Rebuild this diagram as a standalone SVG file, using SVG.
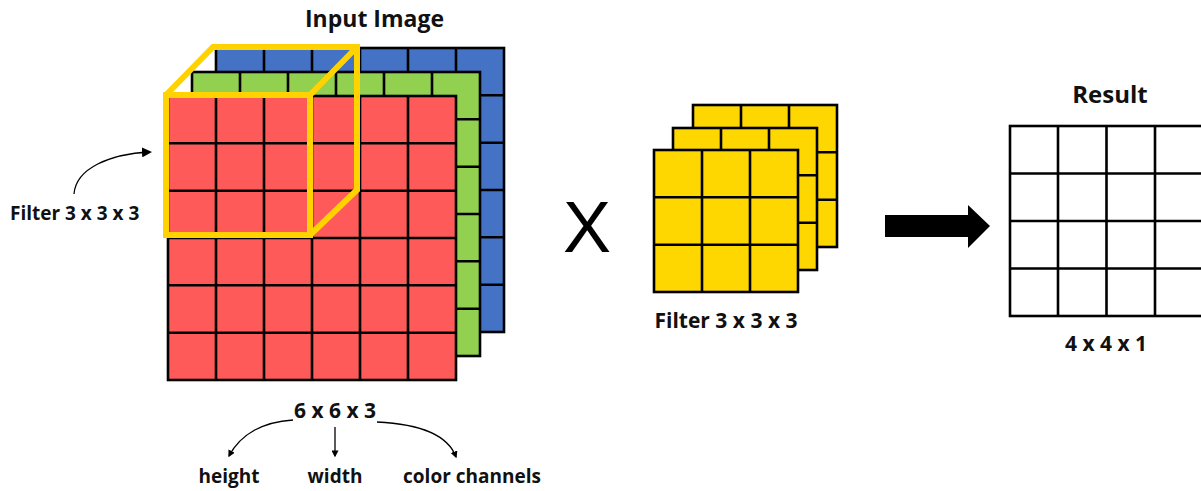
<svg xmlns="http://www.w3.org/2000/svg" width="1201" height="491" viewBox="0 0 1201 491">
<style>
.g{stroke:#000;stroke-width:2.6;}
.t{font-family:"Open Sans","Noto Sans",sans-serif;font-weight:700;fill:#111;}
.c{fill:none;stroke:#000;stroke-width:1.3;}
</style>
<defs>
<marker id="ah" viewBox="0 0 10 10" refX="8" refY="5" markerWidth="7" markerHeight="7" orient="auto" markerUnits="userSpaceOnUse">
<path d="M0,0 L10,5 L0,10 z" fill="#000"/>
</marker>
<marker id="ah2" viewBox="0 0 10 10" refX="8" refY="5" markerWidth="10" markerHeight="10" orient="auto" markerUnits="userSpaceOnUse">
<path d="M0,0 L10,5 L0,10 z" fill="#000"/>
</marker>
</defs>
<rect width="1201" height="491" fill="#fff"/>

<g id="input-image">
<text class="t" x="305" y="27" font-size="23">Input Image</text>
<g id="blue-channel">
<rect class="g" x="216" y="48" width="288" height="284" fill="#4472C4"/>
<path class="g" fill="none" d="M264,48V332M312,48V332M360,48V332M408,48V332M456,48V332M216,95.3H504M216,142.7H504M216,190H504M216,237.3H504M216,284.7H504"/>
</g>
<g id="green-channel">
<rect class="g" x="192" y="72" width="288" height="284" fill="#92D050"/>
<path class="g" fill="none" d="M240,72V356M288,72V356M336,72V356M384,72V356M432,72V356M192,119.3H480M192,166.7H480M192,214H480M192,261.3H480M192,308.7H480"/>
</g>
<g id="red-channel">
<rect class="g" x="168" y="96" width="288" height="284" fill="#FF5A5A"/>
<path class="g" fill="none" d="M216,96V380M264,96V380M312,96V380M360,96V380M408,96V380M168,143.3H456M168,190.7H456M168,238H456M168,285.3H456M168,332.7H456"/>
</g>
<g id="filter-cube" fill="none" stroke="#FFD200" stroke-width="6" stroke-linejoin="miter">
<rect x="166" y="95" width="144" height="140"/>
<path d="M166,95 L213,47 H357 V190 L310,235 M310,95 L357,47"/>
</g>
<text class="t" x="335" y="418" font-size="21" text-anchor="middle">6 x 6 x 3</text>
</g>

<g id="dim-labels">
<text class="t" x="229" y="483" font-size="19" text-anchor="middle">height</text>
<text class="t" x="335" y="483" font-size="19" text-anchor="middle">width</text>
<text class="t" x="472" y="483" font-size="19" text-anchor="middle">color channels</text>
</g>

<g id="filter-label">
<text class="t" x="10" y="220" font-size="19">Filter 3 x 3 x 3</text>
</g>

<g id="multiply">
<text x="587" y="252" font-family="Liberation Sans,Arial,sans-serif" font-size="72" text-anchor="middle" fill="#000">X</text>
</g>

<g id="filter-stack">
<g id="filter-back">
<rect class="g" x="693" y="105" width="144" height="142" fill="#FFD700"/>
<path class="g" fill="none" d="M741,105V247M789,105V247M693,152.3H837M693,199.7H837"/>
</g>
<g id="filter-middle">
<rect class="g" x="673" y="128" width="144" height="142" fill="#FFD700"/>
<path class="g" fill="none" d="M721,128V270M769,128V270M673,175.3H817M673,222.7H817"/>
</g>
<g id="filter-front">
<rect class="g" x="654" y="150" width="144" height="142" fill="#FFD700"/>
<path class="g" fill="none" d="M702,150V292M750,150V292M654,197.3H798M654,244.7H798"/>
</g>
<text class="t" x="726" y="328" font-size="21" text-anchor="middle">Filter 3 x 3 x 3</text>
</g>

<g id="result">
<text class="t" x="1110" y="103" font-size="24" text-anchor="middle">Result</text>
<rect class="g" x="1010" y="126" width="193" height="190" fill="#fff"/>
<path class="g" fill="none" d="M1058,126V316M1106.5,126V316M1155,126V316M1010,173.5H1203M1010,221H1203M1010,268.5H1203"/>
<text class="t" x="1106" y="351" font-size="21" text-anchor="middle">4 x 4 x 1</text>
</g>

<g id="connectors">
<path d="M885,215H968V205L990,226L968,248V237H885Z" fill="#000"/>
<path class="c" stroke-width="2" d="M74,194 C76,168 110,154 150,152" marker-end="url(#ah2)"/>
<path class="c" d="M293,420 C262,422 240,435 229,456" marker-end="url(#ah)"/>
<path class="c" d="M335,427 V456" marker-end="url(#ah)"/>
<path class="c" d="M377,422 C420,424 448,435 456,457" marker-end="url(#ah)"/>
</g>
</svg>
